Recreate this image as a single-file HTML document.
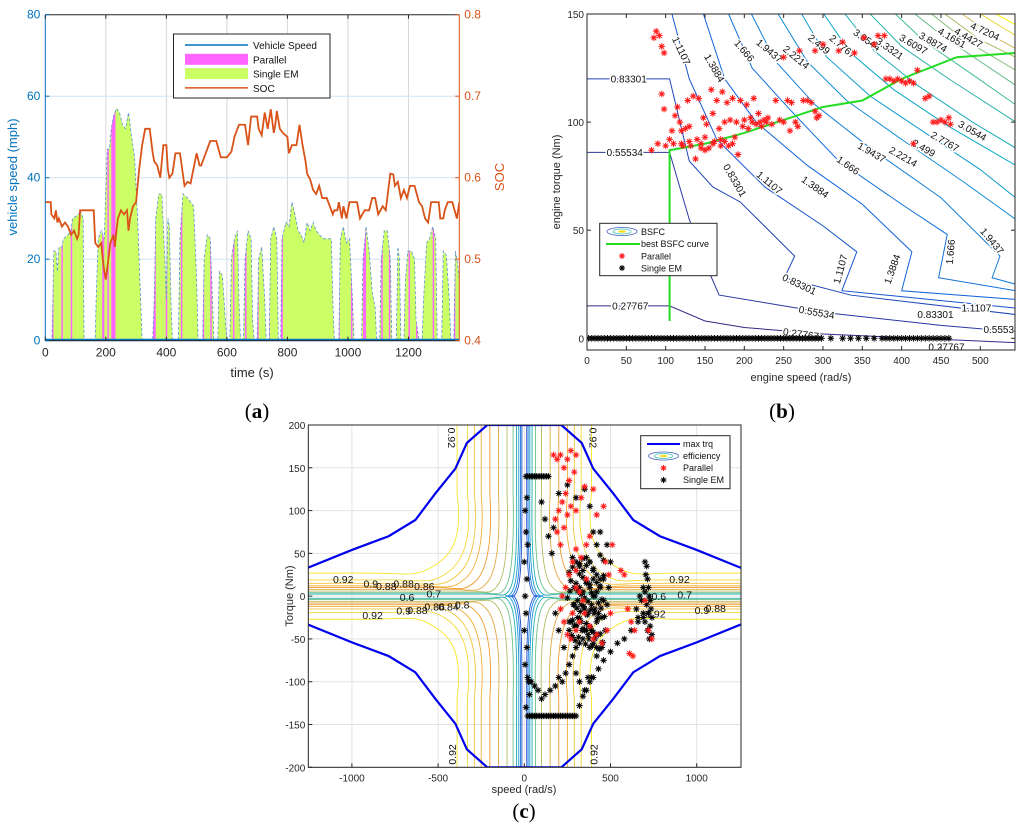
<!DOCTYPE html>
<html><head><meta charset="utf-8">
<style>
html,body{margin:0;padding:0;background:#fff;}
svg{display:block;font-family:"Liberation Sans",sans-serif;}
.pl{font-family:"Liberation Serif",serif;font-size:21px;}
</style></head>
<body>
<svg id="fig" width="1024" height="830" viewBox="0 0 1024 830" xmlns="http://www.w3.org/2000/svg">
<defs>
<clipPath id="clipA"><rect x="45.3" y="14.7" width="414" height="326"/></clipPath>
<clipPath id="clipB"><rect x="587" y="14" width="428" height="336"/></clipPath>
<clipPath id="clipC"><rect x="308.3" y="425" width="432.7" height="342.3"/></clipPath>
</defs>
<g id="pa"></g>
<g id="pb"></g>
<g id="pc"></g>
<text class="pl" x="257" y="418" text-anchor="middle">(<tspan font-weight="bold">a</tspan>)</text>
<text class="pl" x="782" y="418" text-anchor="middle">(<tspan font-weight="bold">b</tspan>)</text>
<text class="pl" x="524" y="818" text-anchor="middle">(<tspan font-weight="bold">c</tspan>)</text>
</svg>
<script>
// ---------- Panel A data ----------
const speedT = [0,22,25,28,35,40,45,55,60,75,85,90,110,115,125,128,165,168,175,185,190,195,200,205,212,218,225,235,245,255,265,275,285,295,305,315,320,355,360,365,375,385,395,400,405,410,415,420,440,445,455,470,490,500,505,520,525,535,545,555,557,570,575,585,595,600,610,615,625,635,640,645,655,660,670,680,685,690,700,705,715,725,730,740,745,755,765,770,778,782,795,805,815,825,835,845,855,865,875,885,895,905,920,935,945,950,955,970,975,985,995,1005,1015,1020,1045,1050,1060,1070,1080,1090,1095,1105,1110,1120,1130,1140,1145,1160,1165,1170,1175,1185,1190,1198,1210,1220,1225,1235,1245,1250,1260,1270,1280,1290,1295,1310,1315,1325,1335,1340,1350,1355,1360,1368];
const speedV = [0,0,10,22,22,17,23,23,25,26,27,30,31,32,30,0,0,10,25,27,26,25,37,47,47,52,55,57,56,53,52,56,50,45,30,10,0,0,10,30,36,36,20,10,30,28,10,0,0,25,36,35,33,15,0,0,20,26,25,5,0,0,17,16,5,0,0,20,25,27,10,0,0,20,27,25,5,0,0,20,23,10,0,0,25,28,25,0,0,25,29,28,34,31,27,26,24,29,27,29,27,26,25,25,25,10,0,0,25,28,24,25,10,0,0,20,28,22,12,8,0,0,20,27,27,20,0,0,23,20,0,0,15,22,22,20,5,0,0,10,24,25,28,25,0,0,22,21,10,0,0,22,20,15];
const parStart = [22,53,84,188,205,218,355,398,448,520,545,600,620,660,700,735,778,968,1010,1050,1110,1135,1200,1225,1280,1350];
const parEnd   = [26,56,87,195,208,232,365,402,452,525,550,605,625,665,705,742,785,972,1013,1060,1115,1140,1203,1230,1285,1354];
const socT = [0,18,20,30,35,40,45,55,65,75,85,95,105,110,115,150,160,165,175,185,190,195,200,205,215,225,230,235,240,250,260,270,275,280,290,300,310,320,330,345,355,360,370,380,385,390,400,405,410,420,430,445,460,470,480,500,510,515,525,545,565,580,600,615,625,640,660,670,680,700,705,715,725,735,745,755,760,765,775,785,800,805,815,830,840,850,860,865,875,885,895,905,915,930,940,950,955,965,970,980,985,995,1005,1015,1030,1040,1055,1070,1080,1090,1100,1115,1125,1140,1150,1155,1165,1175,1185,1195,1205,1220,1235,1245,1255,1265,1275,1290,1300,1305,1315,1320,1330,1345,1360,1368];
const socV = [0.57,0.57,0.555,0.55,0.56,0.545,0.55,0.54,0.545,0.54,0.53,0.535,0.525,0.53,0.56,0.56,0.56,0.52,0.515,0.52,0.5,0.485,0.475,0.49,0.52,0.53,0.515,0.535,0.55,0.56,0.555,0.56,0.535,0.55,0.565,0.57,0.61,0.64,0.66,0.66,0.63,0.62,0.615,0.6,0.62,0.64,0.64,0.61,0.6,0.605,0.63,0.63,0.59,0.595,0.593,0.63,0.615,0.615,0.625,0.645,0.645,0.625,0.625,0.632,0.65,0.665,0.665,0.64,0.675,0.675,0.66,0.652,0.68,0.66,0.684,0.655,0.665,0.682,0.66,0.655,0.65,0.63,0.64,0.64,0.665,0.64,0.62,0.605,0.598,0.585,0.58,0.59,0.575,0.575,0.565,0.555,0.56,0.56,0.57,0.55,0.565,0.55,0.57,0.57,0.57,0.55,0.56,0.56,0.575,0.575,0.555,0.565,0.56,0.605,0.604,0.59,0.595,0.575,0.585,0.575,0.59,0.59,0.57,0.565,0.55,0.545,0.57,0.57,0.57,0.55,0.55,0.56,0.57,0.57,0.55,0.57];
const aXTicks = [0,200,400,600,800,1000,1200];
const aYTicks = [0,20,40,60,80];
const aSocTicks = [0.4,0.5,0.6,0.7,0.8];

// ---------- Panel B data ----------
const bLevels = ["0.27767","0.55534","0.83301","1.1107","1.3884","1.666","1.9437","2.2214","2.499","2.7767","3.0544","3.3321","3.6097","3.8874","4.1651","4.4427","4.7204","4.998","5.2757"];
const bContS = [
 [0,105,150,200,300,545],
 [0,105,130,150,168,300,450,545],
 [0,105,130,160,195,264,251,335,545],
 [108,130,165,226,300,343,324,545],
 [148,175,215,280,350,413,400,545],
 [180,210,260,320,400,458,447,545],
 [209,240,290,360,450,525,515,545],
 [243,280,330,400,480,545],
 [273,305,360,430,500,545],
 [301,335,390,460,545],
 [328,365,420,490,545],
 [360,400,460,545],
 [392,430,490,545],
 [417,455,545],
 [438,480,545],
 [455,500,545],
 [477,520,545],
 [500,545],
 [520,545]];
const bContT = [
 [15,15,8,5,2,-2],
 [86,86,55,35,20,12,6,3],
 [120,120,82,70,63,38,28,20,11],
 [150,120,92,70,52,40,22,14],
 [150,120,100,80,62,40,22,18],
 [150,125,105,82,62,48,28,22],
 [150,128,108,88,65,38,28,25],
 [150,128,110,92,72,55],
 [150,130,112,95,78,65],
 [150,132,115,98,80],
 [150,133,117,100,88],
 [150,135,120,100],
 [150,137,122,108],
 [150,139,117],
 [150,138,124],
 [150,138,130],
 [150,139,134],
 [150,140],
 [150,145]];
const bLabText = ["1.1107","1.3884","1.666","1.9437","2.2214","2.499","2.7767","3.0544","3.3321","3.6097","3.8874","4.1651","4.4427","4.7204","0.83301","0.55534","0.27767","0.83301","1.1107","1.3884","1.666","1.9437","2.2214","2.499","2.7767","3.0544","0.83301","0.55534","0.27767","1.1107","1.3884","1.666","1.9437","1.1107","0.83301","0.55534","0.27767"];
const bLabS = [120,162,200,232,266,295,325,356,385,415,440,464,485,506,53,48,55,188,232,290,332,362,402,428,455,490,270,292,272,322,388,462,515,495,443,527,457];
const bLabT = [133,125,133,133,130,136,135,138,134,136,137,139,139,142,120,86,15,73,72,70,80,86,84,88,91,96,25,12,2,32,32,40,45,14,11,4,-4];
const bLabA = [65,60,50,40,40,40,40,35,35,30,30,30,30,25,0,0,0,60,40,35,35,30,30,30,30,30,25,10,8,-75,-70,-85,50,0,0,0,0];
const bestS = [105,105,150,200,250,300,350,400,470,545];
const bestT = [8,87,90,95,101,107,110,120,130,132];
const bParS = [88,85,92,95,98,82,90,95,98,100,105,108,110,112,115,118,120,122,125,128,130,132,135,138,140,142,145,148,150,152,155,158,160,162,165,168,170,172,175,178,180,182,185,188,190,192,195,198,200,203,205,208,210,212,215,218,220,222,225,228,230,235,240,245,250,255,258,260,265,268,275,280,285,290,292,295,120,130,145,150,160,170,175,185,250,270,290,300,320,325,340,352,365,370,378,380,385,390,395,400,405,410,415,420,430,435,440,445,450,455,460,462,415];
const bParT = [142,139,140,135,132,87,90,113,106,89,92,96,90,103,107,100,96,89,97,110,98,89,112,83,92,111,90,102,93,99,88,115,104,91,110,97,92,114,100,109,89,101,111,93,100,85,110,98,101,108,97,102,100,111,99,104,100,98,101,100,102,99,110,101,100,110,96,109,100,98,110,110,109,105,102,103,90,91,88,87,90,89,91,90,130,133,133,136,133,137,132,139,136,140,140,120,120,119,120,119,118,119,118,124,111,112,100,100,101,100,102,99,90];
const bSingleS = [2,6,10,14,18,22,26,30,34,38,42,46,50,54,58,62,66,70,74,78,82,86,90,94,98,102,106,110,114,118,122,126,130,134,138,142,146,150,154,158,162,166,170,174,178,182,186,190,194,198,202,206,210,214,218,222,226,230,234,238,242,246,250,254,258,262,266,270,274,278,282,286,290,294,298,310,325,335,345,355,365,375,380,385,390,395,400,405,410,415,420,425,430,435,440,445,450,455,460];
const bXTicks = [0,50,100,150,200,250,300,350,400,450,500];
const bYTicks = [0,50,100,150];

// ---------- Panel C data ----------
const cEff = ["0.3","0.4","0.5","0.6","0.7","0.8","0.82","0.84","0.86","0.88","0.9","0.92"];
const cEffSpeed = [14,22,32,45,65,100,150,200,250,290,330,390];
const cEffTorque = [0.5,1,1.5,2.5,4,6,8,10,12,15,19,27];
const cEffReach = [70,90,110,1300,1300,1300,1300,1300,1300,1300,1300,1300];
const cColors = ["#1f4fd0","#1a78dc","#1597d2","#22b0b0","#6cc088","#b8bb62","#e3a847","#ee9c30","#f2ad35","#f3c43b","#f2d834","#f5e625"];
const maxS = [0,215,333,400,516,632,787,1000,1257];
const maxT = [200,200,179,149,120,89,70,54,33];
const cLabText = ["0.92","0.9","0.88","0.88","0.86","0.6","0.7","0.92","0.9","0.88","0.86","0.84","0.8","0.92","0.7","0.6","0.92","0.9","0.88"];
const cLabS = [-1050,-890,-800,-700,-580,-680,-525,-880,-700,-620,-520,-440,-360,900,930,780,760,1030,1110];
const cLabT = [20,15,12,15,12,-1,3,-22,-17,-16,-12,-12,-10,20,2,0,-20,-16,-14];
const cBlkS = [20,30,40,50,60,70,80,90,100,110,120,130,140,20,30,40,50,60,70,80,90,100,110,120,130,140,150,160,170,180,190,200,210,220,230,240,250,260,270,280,290,300,320,340,360,380,400,430,460,500,540,580,620,660,690,700,710,705,715,720,700,725,730,710,735,720,740,700,730,715,740,725,690,680,690,660,650,670,10,15,5,10,20,0,15,5,10,0,15,5,20,25,40,30,10,60,80,100,120,150,180,200,220,240,260,280,300,320,350,370,390,420,450,470,480,490,500,480,440,420,400,380,350,300,250,200,170,120,100,140,160,180,200,230,260,280,300,320,340,360,380,400,420,440,460,300,320,340,360,380,400,420,440,460,290,310,330,350,370,390,410,430,450,270,290,310,330,350,370,390,410,430,300,320,340,360,380,400,420,440,460,320,340,360,380,400,
 260,280,300,320,340,360,380,400,420,440,460,270,290,310,330,350,370,390,410,430,450,250,265,285,305,325,345,365,385,405,425,445,465,260,280,300,320,340,360,380,400,420,440,275,295,315,335,355,375,395,415,435,455,280,300,320,340,360,380,400,420];
const cBlkT = [140,140,140,140,140,140,140,140,140,140,140,140,140,-140,-140,-140,-140,-140,-140,-140,-140,-140,-140,-140,-140,-140,-140,-140,-140,-140,-140,-140,-140,-140,-140,-140,-140,-140,-140,-140,-140,-140,-128,-117,-110,-100,-95,-85,-75,-65,-55,-50,-40,-30,-25,40,35,25,20,10,5,0,-5,-10,-15,-20,-25,-30,-35,-40,-45,-50,10,-5,-20,-25,-15,0,140,115,100,75,60,40,20,0,-20,-40,-60,-80,-95,-100,-100,-115,-130,-105,-110,-120,-115,-110,-105,-95,-100,-90,-80,-70,-90,-100,-110,-95,-95,-70,-60,-40,-10,10,40,60,75,60,75,105,125,115,130,120,80,90,110,70,50,-20,-40,-60,-40,45,40,35,30,45,40,30,25,20,20,15,10,5,15,10,0,5,10,-5,-10,-5,-10,-15,-20,-10,-15,-20,-25,-30,-35,-25,-30,-40,-45,-40,-50,-45,-35,-55,-50,-40,-60,-55,-60,
 48,42,38,44,36,40,32,28,34,30,26,22,18,14,20,16,12,24,18,10,6,2,-2,-6,4,0,-8,-4,-2,6,-10,-14,-18,-12,-22,-16,-20,-26,-14,-24,-30,-28,-34,-26,-38,-32,-36,-42,-30,-44,-46,-52,-48,-40,-56,-50,-58,-45,-62,-54,-48,-60];
const cRedS = [170,190,210,230,250,270,300,290,260,240,220,200,180,190,210,230,250,270,300,330,350,400,420,460,380,360,330,300,280,260,240,220,210,230,250,270,300,320,350,380,400,420,450,480,500,490,470,510,560,580,600,620,640,610,630,720,740,700,280,300,320,340,360,300];
const cRedT = [165,160,165,150,160,170,165,145,135,120,110,100,90,75,60,80,95,105,100,115,128,125,95,105,70,60,45,55,40,25,10,0,-15,-30,-45,-50,-40,-30,-20,-35,-50,-45,-55,-40,-20,25,40,60,30,25,-15,-30,-40,-67,-70,-40,-50,-5,-20,10,5,-5,20,30];
const cXTicks = [-1000,-500,0,500,1000];
const cYTicks = [-200,-150,-100,-50,0,50,100,150,200];

// ---------- helpers ----------
const NS = "http://www.w3.org/2000/svg";
function mk(parent, tag, attrs, txt){
  const e = document.createElementNS(NS, tag);
  for (const k in attrs) e.setAttribute(k, attrs[k]);
  if (txt !== undefined) e.textContent = txt;
  parent.appendChild(e);
  return e;
}
function star(parent, x, y, col, r){
  const d = `M${x-r},${y}H${x+r}M${x},${y-r}V${y+r}M${x-r*0.7},${y-r*0.7}L${x+r*0.7},${y+r*0.7}M${x-r*0.7},${y+r*0.7}L${x+r*0.7},${y-r*0.7}`;
  return mk(parent, "path", {d:d, stroke:col, "stroke-width":1, fill:"none"});
}
function lerpColor(stops, f){
  f = Math.max(0, Math.min(1, f));
  for (let i=0;i<stops.length-1;i++){
    const a = stops[i], b = stops[i+1];
    if (f >= a[0] && f <= b[0]){
      const u = (f-a[0])/(b[0]-a[0]);
      const c = [0,1,2].map(j=>Math.round(a[1][j]+(b[1][j]-a[1][j])*u));
      return `rgb(${c[0]},${c[1]},${c[2]})`;
    }
  }
  return "#000";
}
const parula = [[0,[53,42,135]],[0.2,[15,92,221]],[0.35,[20,129,214]],[0.5,[6,167,198]],[0.65,[56,185,158]],[0.8,[146,191,115]],[0.9,[217,186,86]],[1,[249,251,14]]];

// ================= Panel A =================
(function(){
  const g = document.getElementById("pa");
  const X0=45.3, X1=459.3, Y0=340.7, Y1=14.7;
  const tx = t => X0 + t*(X1-X0)/1368;
  const vy = v => Y0 - v*(Y0-Y1)/80;
  const sy = s => Y0 - (s-0.4)*(Y0-Y1)/0.4;
  aXTicks.forEach(t=>{ if(t>0){ const l=mk(g,"line",{x1:tx(t),x2:tx(t),y1:Y1,y2:Y0,stroke:"#d6d6d6","stroke-width":1});
      }});
  aYTicks.forEach(v=>{ if(v>0&&v<80){ const l=mk(g,"line",{x1:X0,x2:X1,y1:vy(v),y2:vy(v),stroke:"#cfe3f2","stroke-width":1});
      }});
  const cg = mk(g,"g",{"clip-path":"url(#clipA)"});
  let d = `M${tx(speedT[0])},${vy(0)}`;
  speedT.forEach((t,i)=>{ d += `L${tx(t)},${vy(speedV[i])}`; });
  d += `L${tx(speedT[speedT.length-1])},${vy(0)}Z`;
  mk(cg,"clipPath",{id:"speedClip"}).appendChild((()=>{const p=document.createElementNS(NS,"path");p.setAttribute("d",d);return p;})());
  const area = mk(cg,"path",{d:d, fill:"#ccff66", stroke:"none"});
  
  
  const pg = mk(cg,"g",{"clip-path":"url(#speedClip)"});
  parStart.forEach((s,i)=>{
    const r = mk(pg,"rect",{x:tx(s), y:Y1, width:Math.max(1.5,tx(parEnd[i])-tx(s)), height:Y0-Y1, fill:"#ff66ff"});
    
    
  });
  let ld = "";
  speedT.forEach((t,i)=>{ ld += (i?"L":"M")+tx(t)+","+vy(speedV[i]); });
  const sl = mk(cg,"path",{d:ld, fill:"none", stroke:"#5a8fd0","stroke-width":0.8,"stroke-dasharray":"3,2"});
  
  
  mk(cg,"line",{x1:X0,x2:X1,y1:Y0-1,y2:Y0-1,stroke:"#0072BD","stroke-width":2});
  let sd = "";
  socT.forEach((t,i)=>{ sd += (i?"L":"M")+tx(t)+","+sy(socV[i]); });
  const soc = mk(cg,"path",{d:sd, fill:"none", stroke:"#D95319","stroke-width":1.8});
  
  
  mk(g,"line",{x1:X0,x2:X1,y1:Y1,y2:Y1,stroke:"#262626","stroke-width":1});
  mk(g,"line",{x1:X0,x2:X1,y1:Y0,y2:Y0,stroke:"#262626","stroke-width":1});
  mk(g,"line",{x1:X0,x2:X0,y1:Y1,y2:Y0,stroke:"#0072BD","stroke-width":1});
  mk(g,"line",{x1:X1,x2:X1,y1:Y1,y2:Y0,stroke:"#D95319","stroke-width":1});
  aXTicks.forEach(t=>{
    mk(g,"line",{x1:tx(t),x2:tx(t),y1:Y0,y2:Y0-4,stroke:"#262626"});
    mk(g,"line",{x1:tx(t),x2:tx(t),y1:Y1,y2:Y1+4,stroke:"#262626"});
    const tl = mk(g,"text",{x:tx(t),y:Y0+16,"font-size":12,"text-anchor":"middle",fill:"#262626"},String(t));
     
  });
  aYTicks.forEach(v=>{
    mk(g,"line",{x1:X0,x2:X0+4,y1:vy(v),y2:vy(v),stroke:"#0072BD"});
    const tl = mk(g,"text",{x:X0-5,y:vy(v)+4,"font-size":12,"text-anchor":"end",fill:"#0072BD"},String(v));
     
  });
  aSocTicks.forEach(s=>{
    mk(g,"line",{x1:X1,x2:X1-4,y1:sy(s),y2:sy(s),stroke:"#D95319"});
    const tl = mk(g,"text",{x:X1+5,y:sy(s)+4,"font-size":12,"text-anchor":"start",fill:"#D95319"},s.toFixed(1));
     
  });
  const xt = mk(g,"text",{x:252,y:377,"font-size":13,"text-anchor":"middle",fill:"#262626"},"time (s)");
   
  const yt = mk(g,"text",{x:0,y:0,"font-size":13,"text-anchor":"middle",fill:"#0072BD",transform:"translate(17,177) rotate(-90)"},"vehicle speed (mph)");
   
  const y2 = mk(g,"text",{x:0,y:0,"font-size":13,"text-anchor":"middle",fill:"#D95319",transform:"translate(504,177) rotate(-90)"},"SOC");
   
  const lg = mk(g,"g",{});
   
  mk(lg,"rect",{x:173.5,y:34,width:156.5,height:64,fill:"#fff",stroke:"#262626","stroke-width":1});
  const items = [["Vehicle Speed","line","#0072BD"],["Parallel","box","#ff66ff"],["Single EM","box","#ccff66"],["SOC","line","#D95319"]];
  items.forEach((it,i)=>{
    const y = 45 + i*14.3;
    if(it[1]==="line") mk(lg,"line",{x1:185,x2:248,y1:y,y2:y,stroke:it[2],"stroke-width":1.5});
    else mk(lg,"rect",{x:185,y:y-5.5,width:63,height:11,fill:it[2]});
    const t = mk(lg,"text",{x:253,y:y+4,"font-size":10,fill:"#111"},it[0]);
     
  });
})();

// ================= Panel B =================
(function(){
  const g = document.getElementById("pb");
  const X0=587, X1=1015, Y0=350, Y1=14;
  const sx = s => 587 + s*393.3/500;
  const ty = T => 338.3 - T*2.162;
  const cg = mk(g,"g",{"clip-path":"url(#clipB)"});
  bContS.forEach((arr,i)=>{
    let d="";
    arr.forEach((s,j)=>{ d += (j?"L":"M")+sx(s)+","+ty(bContT[i][j]); });
    const p = mk(cg,"path",{d:d,fill:"none",stroke:lerpColor(parula,i/(bContS.length-1)),"stroke-width":1});
    
    
  });
  bLabText.forEach((t,i)=>{
    const x=sx(bLabS[i]), y=ty(bLabT[i]);
    const e = mk(cg,"text",{x:x,y:y+3.5,"font-size":10,"text-anchor":"middle",fill:"#111",transform:`rotate(${bLabA[i]},${x},${y})`,stroke:"#fff","stroke-width":3,"paint-order":"stroke"},t);
    
    
  });
  let bd="";
  bestS.forEach((s,i)=>{ bd += (i?"L":"M")+sx(s)+","+ty(bestT[i]); });
  const best = mk(cg,"path",{d:bd,fill:"none",stroke:"#22dd22","stroke-width":2});
  
  
  bSingleS.forEach(s=>{
    const m = star(cg, sx(s), ty(0), "#000", 3.3);
    
    
  });
  bParS.forEach((s,i)=>{
    const m = star(cg, sx(s), ty(bParT[i]), "#ff1a1a", 3.3);
    
    
  });
  mk(g,"rect",{x:X0,y:Y1,width:X1-X0,height:Y0-Y1,fill:"none",stroke:"#262626","stroke-width":1});
  bXTicks.forEach(s=>{
    mk(g,"line",{x1:sx(s),x2:sx(s),y1:Y0,y2:Y0-4,stroke:"#262626"});
    mk(g,"line",{x1:sx(s),x2:sx(s),y1:Y1,y2:Y1+4,stroke:"#262626"});
    const tl = mk(g,"text",{x:sx(s),y:Y0+14,"font-size":10,"text-anchor":"middle",fill:"#262626"},String(s));
     
  });
  bYTicks.forEach(T=>{
    mk(g,"line",{x1:X0,x2:X0+4,y1:ty(T),y2:ty(T),stroke:"#262626"});
    mk(g,"line",{x1:X1,x2:X1-4,y1:ty(T),y2:ty(T),stroke:"#262626"});
    const tl = mk(g,"text",{x:X0-3,y:ty(T)+4,"font-size":10,"text-anchor":"end",fill:"#262626"},String(T));
     
  });
  const xt = mk(g,"text",{x:801,y:381,"font-size":11,"text-anchor":"middle",fill:"#262626"},"engine speed (rad/s)");
   
  const yt = mk(g,"text",{x:0,y:0,"font-size":11,"text-anchor":"middle",fill:"#262626",transform:"translate(560,182) rotate(-90)"},"engine torque (Nm)");
   
  const lg = mk(g,"g",{});
   
  mk(lg,"rect",{x:599.7,y:223.3,width:117.3,height:52.4,fill:"#fff",stroke:"#262626","stroke-width":1});
  mk(lg,"ellipse",{cx:622,cy:231.5,rx:15,ry:4,fill:"none",stroke:"#4060c0","stroke-width":0.8});
  mk(lg,"ellipse",{cx:622,cy:231.5,rx:9,ry:2.5,fill:"none",stroke:"#40c0b0","stroke-width":0.8});
  mk(lg,"ellipse",{cx:622,cy:231.5,rx:4,ry:1.2,fill:"#f0e020","stroke":"none"});
  mk(lg,"line",{x1:606,x2:640,y1:244,y2:244,stroke:"#22dd22","stroke-width":2});
  star(lg,622,256,"#ff1a1a",3);
  star(lg,622,268,"#000",3);
  ["BSFC","best BSFC curve","Parallel","Single EM"].forEach((t,i)=>{
    const e = mk(lg,"text",{x:641,y:235+i*12.2,"font-size":9,fill:"#111"},t);
     
  });
})();

// ================= Panel C =================
(function(){
  const g = document.getElementById("pc");
  const X0=308.3, X1=741, Y0=767.3, Y1=425;
  const sx = s => 524.3 + s*0.1724;
  const ty = T => 596.15 - T*0.8557;
  cXTicks.forEach(s=>{ const l=mk(g,"line",{x1:sx(s),x2:sx(s),y1:Y1,y2:Y0,stroke:"#e2e2e2"});
      });
  cYTicks.forEach(T=>{ const l=mk(g,"line",{x1:X0,x2:X1,y1:ty(T),y2:ty(T),stroke:"#e2e2e2"});
      });
  const cg = mk(g,"g",{"clip-path":"url(#clipC)"});
  [[1,1],[-1,1],[1,-1],[-1,-1]].forEach(q=>{
    cEff.forEach((e,i)=>{
      const a = cEffSpeed[i], b = cEffTorque[i], r = cEffReach[i];
      const P = (s,T) => sx(q[0]*s)+","+ty(q[1]*T);
      const endS = Math.min(r, a*2+120);
      const d = `M${P(a,205)}L${P(a,120)}C${P(a*0.92,70)} ${P(a*1.05,b+22)} ${P(a*1.3+20,b+8)}S${P(a*1.6+60,b)} ${P(endS,b)}L${P(r,b)}`;
      const p = mk(cg,"path",{d:d,fill:"none",stroke:cColors[i],"stroke-width":0.9});
      
      
    });
  });
  cLabText.forEach((t,i)=>{
    const e = mk(cg,"text",{x:sx(cLabS[i]),y:ty(cLabT[i])+4,"font-size":10.5,"text-anchor":"middle",fill:"#111"},t);
    
    
  });
  [[-420,185,90],[400,185,90],[-420,-185,-90],[400,-185,-90]].forEach(v=>{
    const x=sx(v[0]), y=ty(v[1]);
    const e = mk(cg,"text",{x:x,y:y+4,"font-size":10.5,"text-anchor":"middle",fill:"#111",transform:`rotate(${v[2]},${x},${y})`},"0.92");
    
    
  });
  const pts = [];
  for (let i=maxS.length-1;i>=0;i--) pts.push([-maxS[i],maxT[i]]);
  for (let i=1;i<maxS.length;i++) pts.push([maxS[i],maxT[i]]);
  ["top","bottom"].forEach((nm,k)=>{
    let d="";
    pts.forEach((p,j)=>{ d += (j?"L":"M")+sx(p[0])+","+ty(k?-p[1]:p[1]); });
    const m = mk(cg,"path",{d:d,fill:"none",stroke:"#0000ee","stroke-width":2.2});
    
    
  });
  cBlkS.forEach((s,i)=>{
    const m = star(cg, sx(s), ty(cBlkT[i]), "#000", 3.2);
    
    
  });
  cRedS.forEach((s,i)=>{
    const m = star(cg, sx(s), ty(cRedT[i]), "#ff1a1a", 3.2);
    
    
  });
  mk(g,"rect",{x:X0,y:Y1,width:X1-X0,height:Y0-Y1,fill:"none",stroke:"#262626","stroke-width":1});
  cXTicks.forEach(s=>{
    mk(g,"line",{x1:sx(s),x2:sx(s),y1:Y0,y2:Y0-4,stroke:"#262626"});
    const tl = mk(g,"text",{x:sx(s),y:Y0+14,"font-size":10,"text-anchor":"middle",fill:"#262626"},String(s));
     
  });
  cYTicks.forEach(T=>{
    mk(g,"line",{x1:X0,x2:X0+4,y1:ty(T),y2:ty(T),stroke:"#262626"});
    const tl = mk(g,"text",{x:X0-3,y:ty(T)+4,"font-size":10,"text-anchor":"end",fill:"#262626"},String(T));
     
  });
  const xt = mk(g,"text",{x:524,y:793,"font-size":11,"text-anchor":"middle",fill:"#262626"},"speed (rad/s)");
   
  const yt = mk(g,"text",{x:0,y:0,"font-size":11,"text-anchor":"middle",fill:"#262626",transform:"translate(293,596) rotate(-90)"},"Torque (Nm)");
   
  const lg = mk(g,"g",{});
   
  mk(lg,"rect",{x:640.7,y:435.7,width:89.3,height:53,fill:"#fff",stroke:"#262626","stroke-width":1});
  mk(lg,"line",{x1:647,x2:680,y1:444,y2:444,stroke:"#0000ee","stroke-width":2});
  mk(lg,"ellipse",{cx:663.5,cy:456,rx:15,ry:4,fill:"none",stroke:"#4060c0","stroke-width":0.8});
  mk(lg,"ellipse",{cx:663.5,cy:456,rx:9,ry:2.5,fill:"none",stroke:"#40c0b0","stroke-width":0.8});
  mk(lg,"ellipse",{cx:663.5,cy:456,rx:4,ry:1.2,fill:"#f0e020"});
  star(lg,663.5,468,"#ff1a1a",3);
  star(lg,663.5,480,"#000",3);
  ["max trq","efficiency","Parallel","Single EM"].forEach((t,i)=>{
    const e = mk(lg,"text",{x:683,y:447+i*12,"font-size":9,fill:"#111"},t);
     
  });
})();
</script>
</body></html>
